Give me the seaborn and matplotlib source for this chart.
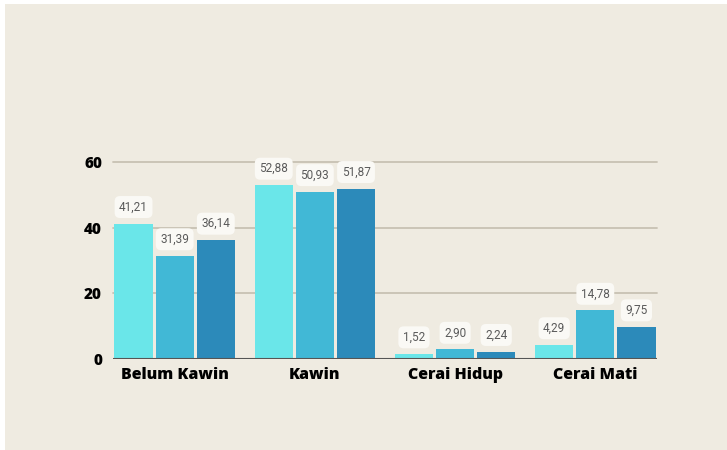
import matplotlib
matplotlib.use("Agg")
import matplotlib.pyplot as plt
import seaborn as sns
import pandas as pd
from matplotlib.patches import Rectangle

# data
categories = ["Belum Kawin", "Kawin", "Cerai Hidup", "Cerai Mati"]
series = ["A", "B", "C"]
values_a = [41.21, 52.88, 1.52, 4.29]
values_b = [31.39, 50.93, 2.90, 14.78]
values_c = [36.14, 51.87, 2.24, 9.75]
y_ticks = [0, 20, 40, 60]

colors = ["#6ae6e9", "#41b8d6", "#2c8aba"]
bg = "#efebe1"

df = pd.DataFrame({
    "kategori": categories * 3,
    "seri": [s for s in series for _ in categories],
    "nilai": values_a + values_b + values_c,
})

sns.set_style("white")
plt.rcParams["font.family"] = ["Open Sans", "DejaVu Sans"]

fig = plt.figure(figsize=(7.27, 4.5), dpi=100, facecolor="white")
fig.patches.append(Rectangle((5 / 727, -0.01), 1, 446 / 450 + 0.01, transform=fig.transFigure,
                             facecolor=bg, edgecolor="none", zorder=-5))
ax = fig.add_axes([113 / 727, 91 / 450, 544 / 727, 197 / 450])
ax.patch.set_alpha(0)

sns.barplot(data=df, x="kategori", y="nilai", hue="seri", palette=colors,
            saturation=1, width=0.88, gap=0.07, legend=False, ax=ax, zorder=3,
            linewidth=0, edgecolor="none")

ax.set_xlim(-0.44, 3.44)
ax.set_ylim(0, 60)
ax.set_yticks(y_ticks)
ax.set_yticklabels([str(t) for t in y_ticks], fontsize=11, fontweight=800, color="#000000")
ax.set_xticklabels(categories, fontsize=11.5, fontweight=800, color="#000000")
ax.tick_params(axis="y", length=0, pad=8)
ax.tick_params(axis="x", length=0, pad=6)
ax.set_xlabel("")
ax.set_ylabel("")

for t in [20, 40, 60]:
    ax.axhline(t, color="#c8c1b3", lw=1.3, zorder=1, clip_on=False)
ax.axhline(0, color="#555555", lw=1.5, zorder=4)

for s in ax.spines.values():
    s.set_visible(False)

for container in ax.containers:
    for bar in container:
        h = bar.get_height()
        ax.annotate(f"{h:.2f}".replace(".", ","),
                    (bar.get_x() + bar.get_width() / 2, h),
                    xytext=(0, 12), textcoords="offset points",
                    ha="center", va="center", fontsize=8.5, color="#5a5a5a",
                    family=["Roboto", "DejaVu Sans"],
                    annotation_clip=False, zorder=5,
                    bbox=dict(boxstyle="round,pad=0.38,rounding_size=0.45",
                              facecolor="#faf9f5", edgecolor="none"))

fig.savefig("out.png", dpi=100, facecolor=fig.get_facecolor())
